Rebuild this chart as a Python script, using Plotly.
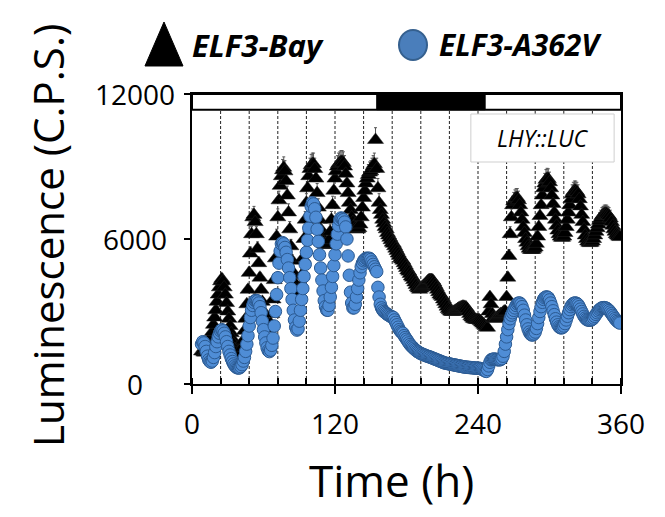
import plotly.graph_objects as go

# ---------------- data (hourly samples, h 8..359) ----------------
t_start, t_end = 8, 360
time_h = list(range(t_start, t_end))

bay_0 = [1350, 1350, 1300, 1300, 1350, 1450, 1600, 1750, 1950, 2150, 2450, 2750, 3050, 3400, 3700, 4000]
bay_1 = [4250, 4350, 4250, 4000, 3700, 3350, 3000, 2700, 2400, 2100, 1850, 1650, 1450, 1300, 1200, 1150, 1150, 1300, 1500, 1800, 2200, 2700, 3300, 3900]
bay_2 = [4600, 5400, 6200, 6900, 7000, 6700, 6200, 5600, 5000, 4400, 3900, 3400, 3000, 2700, 2500, 2350, 2300, 2350, 2500, 2900, 3500, 4300, 5200, 6100]
bay_3 = [6900, 7600, 8200, 8600, 8850, 8950, 8800, 8400, 7800, 7100, 6400, 5700, 5100, 4600, 4200, 3900, 3750, 3700, 3750, 4000, 4500, 5200, 6000, 6800]
bay_4 = [7500, 8100, 8600, 8900, 9050, 9100, 9100, 8900, 8500, 7900, 7300, 6800, 6400, 6100, 5900, 5800, 5750, 5750, 5800, 5950, 6300, 6800, 7400, 8000]
bay_5 = [8500, 8800, 9000, 9100, 9150, 9200, 9200, 9150, 9000, 8700, 8300, 7900, 7500, 7200, 6900, 6700, 6550, 6450, 6400, 6400, 6450, 6600, 6900, 7300]
bay_6 = [7700, 8000, 8300, 8500, 8650, 8750, 8800, 8900, 9000, 9100, 10100, 8900, 8100, 7500, 7200, 7000, 6800, 6650, 6500, 6400, 6250, 6150, 6050, 5950]
bay_7 = [5850, 5800, 5700, 5600, 5500, 5400, 5300, 5200, 5150, 5100, 5000, 4900, 4800, 4700, 4650, 4550, 4450, 4400, 4300, 4200, 4100, 4000, 3950, 3900]
bay_8 = [3950, 4000, 4050, 4100, 4150, 4200, 4250, 4300, 4300, 4300, 4280, 4200, 4100, 4000, 3900, 3800, 3700, 3650, 3600, 3500, 3400, 3300, 3200, 3100]
bay_9 = [3050, 3000, 2980, 2980, 3000, 3030, 3060, 3100, 3130, 3160, 3180, 3200, 3200, 3190, 3170, 3100, 3000, 2900, 2800, 2750, 2700, 2680, 2660, 2650]
bay_10 = [2650, 2640, 2600, 2550, 2500, 2450, 2400, 2350, 2330, 3000, 3600, 3300, 2900, 2750, 2700, 2700, 2750, 2800, 2850, 2900, 2900, 2950, 3000, 3000]
bay_11 = [3600, 4400, 5300, 6200, 6900, 7400, 7550, 7650, 7700, 7700, 7600, 7400, 7100, 6800, 6500, 6250, 6000, 5850, 5700, 5600, 5550, 5550, 5550, 5600]
bay_12 = [5650, 5800, 6100, 6500, 6950, 7400, 7800, 8100, 8300, 8450, 8500, 8480, 8350, 8100, 7800, 7450, 7100, 6800, 6550, 6350, 6200, 6100, 6050, 6050]
bay_13 = [6100, 6250, 6500, 6800, 7100, 7400, 7650, 7850, 7950, 8000, 8000, 7950, 7850, 7650, 7350, 7000, 6700, 6400, 6150, 6000, 5900, 5850, 5830, 5850]
bay_14 = [5900, 6000, 6150, 6300, 6450, 6600, 6750, 6850, 6950, 7000, 7050, 7050, 7050, 7000, 6950, 6850, 6700, 6550, 6400, 6300, 6200, 6150, 6100, 6080]

a362v_0 = [1650, 1750, 1700, 1550, 1350, 1150, 1000, 930, 900, 950, 1100, 1300, 1550, 1750, 1950, 2100]
a362v_1 = [2200, 2250, 2200, 2100, 1950, 1750, 1550, 1350, 1200, 1050, 930, 830, 750, 700, 670, 660, 670, 720, 800, 950, 1100, 1350, 1650, 2000]
a362v_2 = [2400, 2750, 3050, 3250, 3380, 3450, 3460, 3430, 3350, 3200, 2950, 2600, 2250, 1950, 1700, 1500, 1380, 1340, 1400, 1600, 1900, 2400, 3000, 3700]
a362v_3 = [4400, 5000, 5500, 5800, 5850, 5800, 5650, 5450, 5150, 4800, 4400, 3950, 3500, 3050, 2650, 2350, 2230, 2280, 2600, 3050, 3500, 3950, 4450, 4950]
a362v_4 = [5450, 5950, 6450, 6950, 7350, 7500, 7450, 7250, 6900, 6400, 5900, 5350, 4800, 4300, 3850, 3450, 3200, 3060, 3050, 3250, 3600, 4000, 4450, 4900]
a362v_5 = [5350, 5800, 6200, 6550, 6800, 6870, 6850, 6800, 6700, 6500, 6000, 5300, 4500, 3800, 3350, 3150, 3150, 3300, 3600, 3950, 4300, 4600, 4850, 5000]
a362v_6 = [5100, 5150, 5200, 5200, 5200, 5200, 5150, 5050, 4950, 4850, 4750, 4650, 4000, 3600, 3300, 3150, 3060, 3000, 2960, 2920, 2880, 2850, 2820, 2790]
a362v_7 = [2780, 2750, 2650, 2550, 2450, 2350, 2250, 2180, 2130, 2100, 2000, 1920, 1850, 1780, 1700, 1630, 1570, 1530, 1480, 1430, 1390, 1350, 1320, 1290]
a362v_8 = [1260, 1240, 1220, 1200, 1180, 1160, 1140, 1130, 1110, 1090, 1070, 1050, 1030, 1010, 990, 970, 950, 930, 910, 890, 870, 860, 850, 840]
a362v_9 = [830, 820, 810, 800, 790, 780, 770, 760, 750, 740, 730, 720, 710, 700, 700, 690, 690, 680, 680, 670, 670, 660, 660, 655]
a362v_10 = [650, 650, 640, 620, 600, 570, 540, 520, 600, 750, 900, 1000, 1020, 1030, 1030, 1020, 1010, 1000, 1000, 1010, 1050, 1150, 1350, 1650]
a362v_11 = [1950, 2250, 2500, 2700, 2850, 2950, 3050, 3150, 3250, 3320, 3350, 3350, 3300, 3200, 3050, 2850, 2650, 2450, 2280, 2150, 2070, 2030, 2030, 2070]
a362v_12 = [2150, 2300, 2500, 2750, 3000, 3200, 3380, 3500, 3570, 3600, 3600, 3570, 3480, 3350, 3200, 3030, 2870, 2700, 2560, 2450, 2370, 2330, 2320, 2340]
a362v_13 = [2400, 2500, 2650, 2800, 2950, 3080, 3200, 3280, 3330, 3350, 3350, 3330, 3280, 3200, 3100, 3000, 2900, 2800, 2730, 2680, 2650, 2640, 2640, 2650]
a362v_14 = [2680, 2730, 2800, 2880, 2950, 3020, 3080, 3120, 3150, 3160, 3160, 3150, 3130, 3090, 3040, 2980, 2910, 2840, 2770, 2700, 2640, 2590, 2550, 2520]

bay = (bay_0 + bay_1 + bay_2 + bay_3 + bay_4 + bay_5 + bay_6 + bay_7 + bay_8
       + bay_9 + bay_10 + bay_11 + bay_12 + bay_13 + bay_14)
a362v = (a362v_0 + a362v_1 + a362v_2 + a362v_3 + a362v_4 + a362v_5 + a362v_6 + a362v_7
         + a362v_8 + a362v_9 + a362v_10 + a362v_11 + a362v_12 + a362v_13 + a362v_14)
assert len(bay) == len(time_h) == len(a362v)

series_names = ["ELF3-Bay", "ELF3-A362V"]
x_ticks = [0, 120, 240, 360]
y_ticks = [0, 6000, 12000]
day_lines = [24, 48, 72, 96, 120, 144, 168, 192, 216, 240, 264, 288, 312, 336]
dark_start, dark_end = 155, 246      # dark period in the light-regime bar
bar_bottom, bar_top = 11350, 12000
reporter = "LHY::LUC"

FONT = "Open Sans"
BLUE_FILL = "#4f8dd6"
BLUE_LINE = "#2b5a92"

fig = go.Figure()

fig.add_trace(go.Scatter(
    x=time_h, y=bay, mode="markers", name=series_names[0],
    marker=dict(symbol="triangle-up", size=14, color="black",
                line=dict(color="#222", width=0.5)),
    error_y=dict(type="percent", value=5, valueminus=0, symmetric=False,
                 color="#555", thickness=1, width=1.5),
    showlegend=False,
))
fig.add_trace(go.Scatter(
    x=time_h, y=a362v, mode="markers", name=series_names[1],
    marker=dict(symbol="circle", size=12.5, color=BLUE_FILL,
                line=dict(color=BLUE_LINE, width=1)),
    showlegend=False,
))

shapes = []
for d in day_lines:
    shapes.append(dict(type="line", xref="x", yref="y", x0=d, x1=d, y0=0, y1=bar_bottom,
                       line=dict(color="#222", width=1, dash="3px,2px"), layer="below"))
shapes.append(dict(type="rect", xref="x", yref="y", x0=0, x1=360, y0=bar_bottom, y1=bar_top,
                   fillcolor="white", line=dict(color="black", width=2)))
shapes.append(dict(type="rect", xref="x", yref="y", x0=dark_start, x1=dark_end, y0=bar_bottom, y1=bar_top,
                   fillcolor="black", line=dict(color="black", width=1)))
# reporter label box
shapes.append(dict(type="rect", xref="paper", yref="paper", x0=0.650, x1=0.984, y0=0.7655, y1=0.931,
                   fillcolor="white", line=dict(color="#cfcfcf", width=1)))
# legend symbols
shapes.append(dict(type="path", xref="paper", yref="paper",
                   path="M -0.0653 1.2483 L -0.1096 1.0966 L -0.021 1.0966 Z",
                   fillcolor="black", line=dict(color="black", width=1)))
shapes.append(dict(type="circle", xref="paper", yref="paper",
                   x0=0.4825, x1=0.5478, y0=1.1172, y1=1.2207,
                   fillcolor="#4a7ebb", line=dict(color="#35608f", width=2)))

annotations = []
for v in y_ticks:
    annotations.append(dict(x=-0.133, y=v, xref="paper", yref="y", text=f"{v}",
                            showarrow=False, xanchor="center", yanchor="middle",
                            font=dict(family=FONT, size=28, color="black")))
annotations.append(dict(x=0.816, y=0.848, xref="paper", yref="paper", text=f"<i>{reporter}</i>",
                        showarrow=False, xanchor="center", yanchor="middle",
                        font=dict(family=FONT, size=23, color="black")))
annotations.append(dict(x=-0.0047, y=1.169, xref="paper", yref="paper",
                        text=f"<b><i>{series_names[0]}</i></b>", showarrow=False,
                        xanchor="left", yanchor="middle", font=dict(family=FONT, size=31, color="black")))
annotations.append(dict(x=0.571, y=1.169, xref="paper", yref="paper",
                        text=f"<b><i>{series_names[1]}</i></b>", showarrow=False,
                        xanchor="left", yanchor="middle", font=dict(family=FONT, size=30, color="black")))
annotations.append(dict(x=-0.3357, y=0.514, xref="paper", yref="paper", text="Luminescence (C.P.S.)",
                        textangle=-90, showarrow=False, xanchor="center", yanchor="middle",
                        font=dict(family=FONT, size=42, color="black")))
annotations.append(dict(x=0.466, y=-0.331, xref="paper", yref="paper", text="Time (h)",
                        showarrow=False, xanchor="center", yanchor="middle",
                        font=dict(family=FONT, size=44, color="black")))

fig.update_layout(
    width=665, height=517,
    margin=dict(l=192, r=44, t=94, b=133),
    paper_bgcolor="white", plot_bgcolor="white",
    shapes=shapes, annotations=annotations,
    font=dict(family=FONT, color="black"),
)
fig.update_xaxes(
    range=[0, 360], tickvals=x_ticks, ticktext=[str(v) for v in x_ticks],
    showline=True, linecolor="black", linewidth=2, mirror=True,
    ticks="outside", ticklen=8, tickwidth=2, tickcolor="black",
    minor=dict(tick0=0, dtick=24, ticks="inside", ticklen=6, tickwidth=1.5, tickcolor="black"),
    showgrid=False, zeroline=False, ticklabelstandoff=6,
    tickfont=dict(family=FONT, size=28, color="black"),
)
fig.update_yaxes(
    range=[0, 12000], tickvals=y_ticks, showticklabels=False,
    showline=True, linecolor="black", linewidth=2, mirror=True,
    ticks="outside", ticklen=6, tickwidth=2, tickcolor="black",
    showgrid=False, zeroline=False,
)

fig.write_html("out.html")
